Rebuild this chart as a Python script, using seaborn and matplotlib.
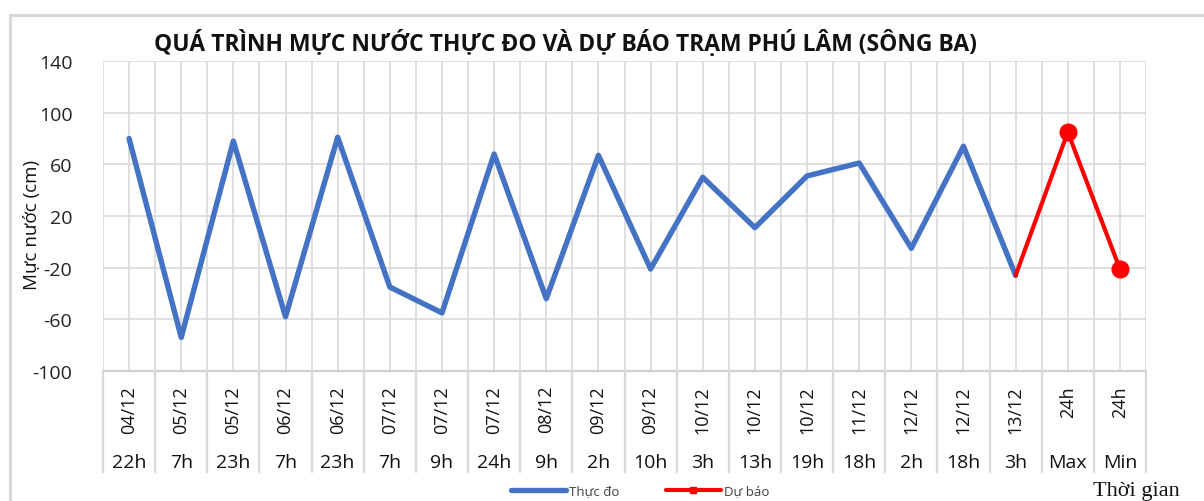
import matplotlib
matplotlib.use("Agg")
import numpy as np
import pandas as pd
import seaborn as sns
import matplotlib.pyplot as plt
import matplotlib.transforms as mtransforms
from matplotlib.lines import Line2D
from matplotlib.patches import Rectangle

# ---------------- data ----------------
dates = ["04/12", "05/12", "05/12", "06/12", "06/12", "07/12", "07/12", "07/12",
         "08/12", "09/12", "09/12", "10/12", "10/12", "10/12", "11/12", "12/12",
         "12/12", "13/12", "24h", "24h"]
hours = ["22h", "7h", "23h", "7h", "23h", "7h", "9h", "24h", "9h", "2h", "10h",
         "3h", "13h", "19h", "18h", "2h", "18h", "3h", "Max", "Min"]
observed = [80, -74, 78, -58, 81, -35, -55, 68, -44, 67, -21, 50, 11, 51, 61, -5, 74, -26]
forecast = [-26, 85, -21]
yticks = [-100, -60, -20, 20, 60, 100, 140]

title = "QUÁ TRÌNH MỰC NƯỚC THỰC ĐO VÀ DỰ BÁO TRẠM PHÚ LÂM (SÔNG BA)"
ylabel = "Mực nước (cm)"
xlabel = "Thời gian"
legend_labels = ["Thực đo", "Dự báo"]

# ---------------- style ----------------
sns.set_theme(style="white")
plt.rcParams['font.family'] = ['Open Sans', 'DejaVu Sans']
plt.rcParams['axes.unicode_minus'] = False

W, H = 1204, 502
fig = plt.figure(figsize=(W / 100, H / 100), dpi=100)
ax = fig.add_axes([103 / W, 1 - 372 / H, (1146 - 103) / W, 310 / H])

df_obs = pd.DataFrame({"pos": np.arange(len(observed)), "val": observed})
start = len(observed) - 1
df_fc = pd.DataFrame({"pos": np.arange(start, start + len(forecast)), "val": forecast})

sns.lineplot(data=df_obs, x="pos", y="val", ax=ax, color="#4472C4", lw=3.9,
             solid_joinstyle="round", solid_capstyle="round", zorder=3)
sns.lineplot(data=df_fc, x="pos", y="val", ax=ax, color="#FF0000", lw=3.0,
             marker="o", markersize=13, markeredgewidth=0, markevery=[1, 2],
             solid_joinstyle="round", zorder=4)

n = len(dates)
ax.set_xlim(-0.5, n - 0.5)
ax.set_ylim(yticks[0], yticks[-1])
ax.set_yticks(yticks)
ax.set_xticks(np.arange(-0.5, n, 0.5))
ax.set_xticklabels([])
ax.set_xlabel("")
ax.set_ylabel("")
ax.grid(True, color="#D9D9D9", lw=1.2)
ax.tick_params(axis="both", length=0)
ax.tick_params(axis="y", pad=22, labelsize=14, labelcolor="#222222")
for s in ["top", "right", "left"]:
    ax.spines[s].set_visible(False)
ax.spines["bottom"].set_color("#D0D0D0")
ax.spines["bottom"].set_linewidth(1.6)
if ax.get_legend():
    ax.get_legend().remove()

# two-level category labels
tr = mtransforms.blended_transform_factory(ax.transData, fig.transFigure)
y_axis = 1 - 372 / H
y_sep_end = 1 - 473 / H
for i in range(n):
    ax.text(i, 1 - 386 / H, dates[i], transform=tr, rotation=90, ha="center",
            va="top", fontsize=13, color="#111111")
    ax.text(i, 1 - 463 / H, hours[i], transform=tr, ha="center", va="center",
            fontsize=14, color="#111111")
for k in range(n + 1):
    fig.add_artist(Line2D([k - 0.5, k - 0.5], [y_axis, y_sep_end], transform=tr,
                          color="#D9D9D9", lw=1.6, clip_on=False))

# titles
fig.text(565 / W, 1 - 51 / H, title, ha="center", va="baseline", fontsize=16.5,
         fontweight="bold", color="#111111")
fig.text(32 / W, 1 - 225 / H, ylabel, rotation=90, ha="center", va="center",
         fontsize=13.5, color="#111111")
fig.text(1093 / W, 1 - 492 / H, xlabel, ha="left", va="center", fontsize=16,
         family=["Liberation Serif", "DejaVu Serif"], color="#111111")

# legend
handles = [Line2D([], [], color="#4472C4", lw=3.9),
           Line2D([], [], color="#FF0000", lw=3.0, marker="s", markersize=4)]
fig.legend(handles, legend_labels, loc="center", bbox_to_anchor=(640 / W, 1 - 492 / H),
           ncol=2, frameon=False, fontsize=9.5, handlelength=4.2, handletextpad=0.2,
           columnspacing=3.5, labelcolor="#404040")

# chart border
fig.add_artist(Rectangle((10 / W, -0.5), 5, 0.5 + (1 - 16 / H), transform=fig.transFigure,
                         fill=False, edgecolor="#D9D9D9", lw=2.2, clip_on=False))

fig.savefig("out.png", dpi=100)
